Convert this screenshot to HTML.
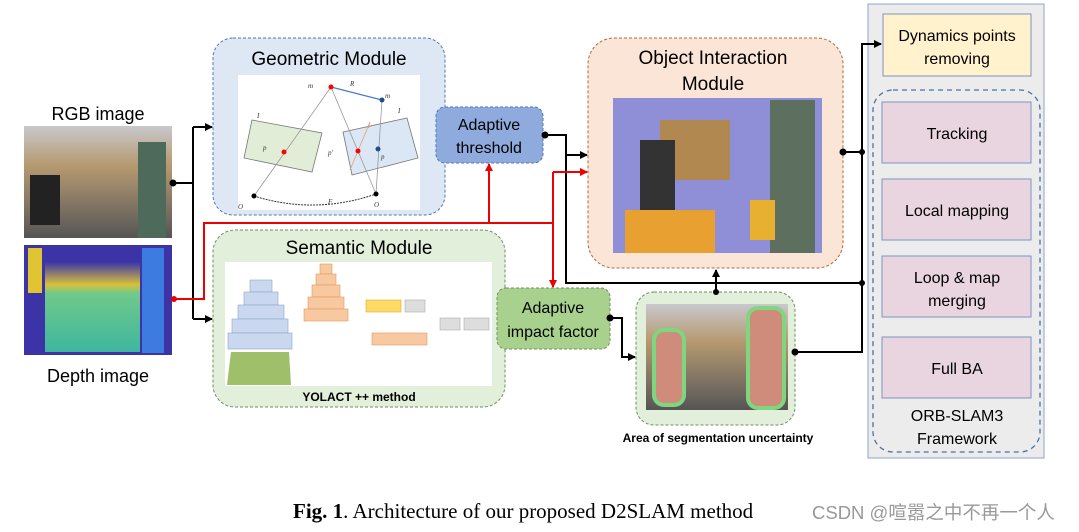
<!DOCTYPE html>
<html><head><meta charset="utf-8"><style>
html,body{margin:0;padding:0;background:#fff;}
body{width:1079px;height:532px;position:relative;overflow:hidden;font-family:"Liberation Sans",sans-serif;}
svg{position:absolute;left:0;top:0;}
</style></head><body>
<svg width="1079" height="532" viewBox="0 0 1079 532" font-family="Liberation Sans, sans-serif">
<defs>
<marker id="ab" markerWidth="8" markerHeight="8" refX="7" refY="4" orient="auto" markerUnits="userSpaceOnUse"><path d="M0,0 L8,4 L0,8 z" fill="#000"/></marker>
<marker id="ar" markerWidth="8" markerHeight="8" refX="7" refY="4" orient="auto" markerUnits="userSpaceOnUse"><path d="M0,0 L8,4 L0,8 z" fill="#e00"/></marker>
<linearGradient id="room" x1="0" y1="0" x2="0" y2="1"><stop offset="0" stop-color="#c8c8cc"/><stop offset="0.35" stop-color="#b69a70"/><stop offset="0.65" stop-color="#8a7b66"/><stop offset="1" stop-color="#555"/></linearGradient>
<linearGradient id="depth" x1="0" y1="0" x2="0" y2="1"><stop offset="0" stop-color="#3a35a8"/><stop offset="0.25" stop-color="#d9c03a"/><stop offset="0.35" stop-color="#6fc98a"/><stop offset="1" stop-color="#3fb6a0"/></linearGradient>
</defs>

<text x="98" y="120" font-size="18" text-anchor="middle">RGB image</text>
<rect x="24" y="126" width="148" height="112" fill="url(#room)"/>
<rect x="30" y="175" width="30" height="50" fill="#222"/>
<rect x="138" y="142" width="28" height="96" fill="#4d6a5a"/>
<rect x="24" y="245" width="148" height="110" fill="#3b33a6"/>
<rect x="45" y="262" width="95" height="90" fill="url(#depth)"/>
<rect x="28" y="248" width="14" height="45" fill="#e0c433"/>
<rect x="142" y="248" width="22" height="105" fill="#3d7be0"/>
<text x="98" y="382" font-size="18" text-anchor="middle">Depth image</text>

<rect x="213" y="38" width="232" height="177" rx="20" fill="#dde8f4" stroke="#4f77b8" stroke-dasharray="3,2"/>
<text x="329" y="65" font-size="19" text-anchor="middle">Geometric Module</text>
<rect x="238" y="75" width="182" height="135" fill="#fff"/>
<polygon points="252,120 322,133 312,172 244,158" fill="#e2edd8" stroke="#777" stroke-width="0.8"/>
<polygon points="343,132 407,118 418,158 352,175" fill="#dbe7f4" stroke="#777" stroke-width="0.8"/>
<g stroke="#999" stroke-width="0.8" fill="none">
<line x1="331" y1="87" x2="254" y2="196"/><line x1="331" y1="87" x2="376" y2="194"/><line x1="382" y1="100" x2="376" y2="194"/>
</g>
<line x1="331" y1="87" x2="382" y2="100" stroke="#4a78c8" stroke-width="1.2"/>
<line x1="370" y1="122" x2="350" y2="170" stroke="#e8a070" stroke-width="0.8"/>
<path d="M254,196 Q315,215 376,194" stroke="#333" stroke-dasharray="2,1" fill="none"/>
<circle cx="331" cy="87" r="2.5" fill="red"/><circle cx="382" cy="100" r="2.5" fill="#1f4e8c"/>
<circle cx="284" cy="152" r="2.5" fill="red"/><circle cx="358" cy="151" r="2.5" fill="red"/><circle cx="378" cy="149" r="2.5" fill="#1f4e8c"/>
<circle cx="254" cy="196" r="2.5" fill="#000"/><circle cx="376" cy="194" r="2.5" fill="#000"/>
<g font-size="7" font-family="Liberation Serif,serif" font-style="italic" fill="#333">
<text x="308" y="88">m</text><text x="350" y="86">R</text><text x="385" y="98">m</text><text x="257" y="118">I</text><text x="398" y="113">I</text>
<text x="263" y="150">p</text><text x="328" y="155">p'</text><text x="381" y="159">p</text><text x="238" y="209">O</text><text x="374" y="207">O</text><text x="328" y="204">F</text>
<text x="368" y="128" fill="#e08050">l</text>
</g>

<rect x="436" y="107" width="107" height="56" rx="9" fill="#8faadc" stroke="#4f77b8" stroke-dasharray="3,2"/>
<text x="489" y="130" font-size="16" text-anchor="middle">Adaptive</text>
<text x="489" y="153" font-size="16" text-anchor="middle">threshold</text>

<rect x="213" y="230" width="292" height="177" rx="22" fill="#e2efda" stroke="#6f8f5f" stroke-dasharray="3,2"/>
<text x="359" y="254" font-size="19" text-anchor="middle">Semantic Module</text>
<rect x="225" y="262" width="267" height="124" fill="#fff"/>
<g fill="#c9d8ee" stroke="#8da6cc" stroke-width="0.6">
<rect x="250" y="280" width="22" height="12"/><rect x="244" y="292" width="34" height="13"/><rect x="238" y="305" width="46" height="14"/><rect x="232" y="319" width="56" height="14"/><rect x="228" y="333" width="64" height="16"/>
</g>
<g fill="#f8c9a0" stroke="#e09a60" stroke-width="0.6">
<rect x="320" y="264" width="12" height="10"/><rect x="316" y="274" width="20" height="11"/><rect x="312" y="285" width="28" height="12"/><rect x="308" y="297" width="36" height="12"/><rect x="304" y="309" width="44" height="12"/>
</g>
<rect x="366" y="300" width="35" height="12" fill="#ffd966" stroke="#d6b030" stroke-width="0.6"/>
<rect x="405" y="300" width="20" height="12" fill="#ddd" stroke="#aaa" stroke-width="0.6"/>
<rect x="372" y="333" width="55" height="12" fill="#f8c9a0" stroke="#e09a60" stroke-width="0.6"/>
<rect x="440" y="318" width="20" height="12" fill="#ddd" stroke="#aaa" stroke-width="0.6"/>
<rect x="464" y="318" width="25" height="12" fill="#ddd" stroke="#aaa" stroke-width="0.6"/>
<polygon points="231,352 289,352 291,385 227,385" fill="#9fbf6a"/>
<text x="359" y="401" font-size="12" font-weight="bold" text-anchor="middle">YOLACT ++ method</text>

<rect x="497" y="288" width="113" height="61" rx="9" fill="#a9d18e" stroke="#6f8f5f" stroke-dasharray="3,2"/>
<text x="553" y="313" font-size="16" text-anchor="middle">Adaptive</text>
<text x="553" y="337" font-size="16" text-anchor="middle">impact factor</text>

<rect x="588" y="38" width="255" height="230" rx="26" fill="#fbe5d6" stroke="#b06a40" stroke-dasharray="3,2"/>
<text x="713" y="64" font-size="19" text-anchor="middle">Object Interaction</text>
<text x="713" y="90" font-size="19" text-anchor="middle">Module</text>
<rect x="613" y="98" width="209" height="155" fill="#8f8fd8"/>
<rect x="660" y="120" width="70" height="60" fill="#b08850"/>
<rect x="625" y="210" width="90" height="43" fill="#e8a030"/>
<rect x="640" y="140" width="35" height="70" fill="#333"/>
<rect x="770" y="100" width="45" height="153" fill="#5d7060"/>
<rect x="750" y="200" width="25" height="40" fill="#e8b030"/>

<rect x="636" y="292" width="159" height="133" rx="18" fill="#e2efda" stroke="#6f8f5f" stroke-dasharray="3,2"/>
<rect x="646" y="304" width="142" height="106" fill="url(#room)"/>
<rect x="654" y="330" width="30" height="75" rx="10" fill="#cf8c7a" stroke="#7ed67e" stroke-width="4"/>
<rect x="748" y="308" width="36" height="100" rx="10" fill="#cf8c7a" stroke="#7ed67e" stroke-width="4"/>
<text x="718" y="442" font-size="12" font-weight="bold" text-anchor="middle">Area of segmentation uncertainty</text>

<rect x="868" y="4" width="176" height="454" fill="#ececec" stroke="#8ea5cc"/>
<rect x="883" y="14" width="148" height="62" fill="#fff2cc" stroke="#7c93c0"/>
<text x="957" y="41" font-size="16" text-anchor="middle">Dynamics points</text>
<text x="957" y="64" font-size="16" text-anchor="middle">removing</text>
<rect x="873" y="90" width="167" height="362" rx="20" fill="none" stroke="#4f6fa8" stroke-width="1.3" stroke-dasharray="5,4"/>
<g fill="#e8d5df" stroke="#7c93c0">
<rect x="882" y="102" width="149" height="61"/><rect x="882" y="179" width="149" height="61"/><rect x="882" y="256" width="149" height="61"/><rect x="882" y="337" width="149" height="61"/>
</g>
<g font-size="16" text-anchor="middle">
<text x="957" y="139">Tracking</text><text x="957" y="216">Local mapping</text>
<text x="957" y="283">Loop &amp; map</text><text x="957" y="306">merging</text>
<text x="957" y="374">Full BA</text>
<text x="957" y="421">ORB-SLAM3</text><text x="957" y="444">Framework</text>
</g>

<g stroke="#000" stroke-width="2" fill="none">
<polyline points="173,183 193,183"/><polyline points="193,127 193,319"/>
<line x1="193" y1="127" x2="212" y2="127" marker-end="url(#ab)"/>
<line x1="193" y1="319" x2="212" y2="319" marker-end="url(#ab)"/>
<polyline points="545,135 566,135 566,283 862,283"/>
<line x1="566" y1="155" x2="587" y2="155" marker-end="url(#ab)"/>
<line x1="716" y1="283" x2="716" y2="270" marker-end="url(#ab)"/>
<line x1="716" y1="283" x2="716" y2="292"/>
<polyline points="610,318 622,318 622,357 635,357" marker-end="url(#ab)"/>
<line x1="843" y1="152" x2="862" y2="152"/>
<polyline points="795,352 862,352 862,44 881,44" marker-end="url(#ab)"/>
</g>
<g fill="#000">
<circle cx="173" cy="183" r="3.5"/><circle cx="545" cy="135" r="3.5"/><circle cx="610" cy="318" r="3.5"/>
<circle cx="843" cy="152" r="3.5"/><circle cx="862" cy="152" r="3"/><circle cx="862" cy="283" r="3"/>
<circle cx="716" cy="292" r="3"/><circle cx="795" cy="352" r="3.5"/>
</g>
<g stroke="#e00" stroke-width="2" fill="none">
<polyline points="174,299 204,299 204,223 553,223"/>
<line x1="489" y1="223" x2="489" y2="164" marker-end="url(#ar)"/>
<polyline points="553,172 553,287" marker-end="url(#ar)"/>
<line x1="553" y1="172" x2="587" y2="172" marker-end="url(#ar)"/>
</g>
<circle cx="174" cy="299" r="3" fill="#e00"/>

<text x="293" y="518" font-size="21" font-family="Liberation Serif, serif"><tspan font-weight="bold">Fig. 1</tspan>. Architecture of our proposed D2SLAM method</text>
<text x="812" y="519" font-size="18.5" fill="#999" font-family="Liberation Sans, Noto Sans CJK SC, sans-serif">CSDN @喧嚣之中不再一个人</text>
</svg>
</body></html>
